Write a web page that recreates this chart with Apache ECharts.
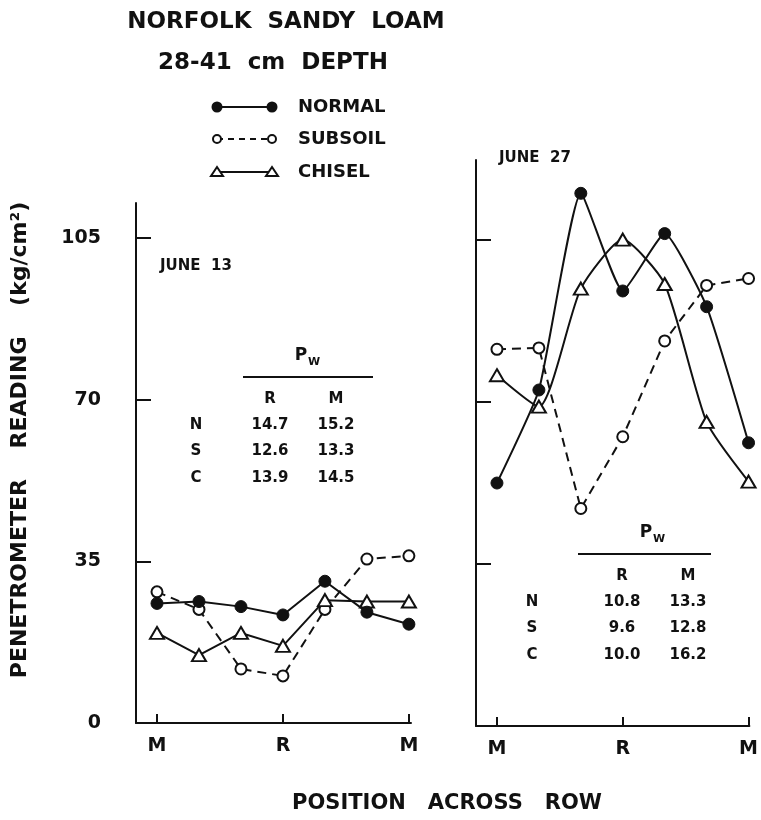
<!DOCTYPE html>
<html>
<head>
<meta charset="utf-8">
<script src="https://cdn.jsdelivr.net/npm/echarts@6/dist/echarts.min.js"></script>
<style>html,body{margin:0;padding:0;background:#fff}#chart{width:761px;height:820px}</style>
</head>
<body>
<div id="chart"></div>
<script>
// ---- data ----
const positions = [0, 1, 2, 3, 4, 5, 6];
const xTickValues = [0, 3, 6];
const xTickLabels = ['M', 'R', 'M'];
const yTickValues = [0, 35, 70, 105];
const june13Normal  = [25.9, 26.3, 25.2, 23.4, 30.7, 24.0, 21.4];
const june13Subsoil = [28.4, 24.6, 11.7, 10.2, 24.6, 35.5, 36.2];
const june13Chisel  = [19.5, 14.7, 19.5, 16.7, 26.6, 26.3, 26.3];
const june27Normal  = [52.5, 72.6, 115.1, 94.0, 106.4, 90.6, 61.2];
const june27Subsoil = [81.4, 81.7, 47.0, 62.5, 83.2, 95.2, 96.7];
const june27Chisel  = [75.8, 69.0, 94.5, 105.1, 95.5, 65.7, 52.8];
const tableRows = ['N', 'S', 'C'];
const table13R = ['14.7', '12.6', '13.9'];
const table13M = ['15.2', '13.3', '14.5'];
const table27R = ['10.8', '9.6', '10.0'];
const table27M = ['13.3', '12.8', '16.2'];

const FONT = 'DejaVu Sans';
const BLACK = '#111';

function pairs(arr) { return arr.map((v, i) => [positions[i], v]); }

function xAxisDef(gridIndex, max) {
  return {
    type: 'value', gridIndex, min: -0.5, max,
    axisLine: { show: true, onZero: false, lineStyle: { color: BLACK, width: 2 } },
    axisTick: { show: true, inside: true, length: 9, customValues: xTickValues, lineStyle: { color: BLACK, width: 2 } },
    axisLabel: { show: true, customValues: xTickValues, margin: 14,
      formatter: v => xTickLabels[xTickValues.indexOf(v)],
      color: BLACK, fontFamily: FONT, fontWeight: 'bold', fontSize: 19 },
    splitLine: { show: false }
  };
}
function yAxisDef(gridIndex, max, labels) {
  return {
    type: 'value', gridIndex, min: 0, max,
    axisLine: { show: true, onZero: false, lineStyle: { color: BLACK, width: 2 } },
    axisTick: { show: true, inside: true, length: 15, customValues: yTickValues.slice(1), lineStyle: { color: BLACK, width: 2 } },
    axisLabel: { show: labels, customValues: yTickValues, margin: 35,
      color: BLACK, fontFamily: FONT, fontWeight: 'bold', fontSize: 19 },
    splitLine: { show: false }
  };
}
function seriesDef(kind, idx, data, smooth) {
  const base = { type: 'line', xAxisIndex: idx, yAxisIndex: idx, data: pairs(data), animation: false,
    lineStyle: { color: BLACK, width: 2 }, smooth: smooth || false, z: 3 };
  if (kind === 'N') {
    return Object.assign(base, { symbol: 'circle', symbolSize: 12, itemStyle: { color: BLACK, borderColor: BLACK }, z: 4 });
  } else if (kind === 'S') {
    base.lineStyle.type = [9, 6];
    return Object.assign(base, { symbol: 'circle', symbolSize: 11, itemStyle: { color: '#fff', borderColor: BLACK, borderWidth: 2 } });
  } else {
    return Object.assign(base, { symbol: 'triangle', symbolSize: [14, 12], itemStyle: { color: '#fff', borderColor: BLACK, borderWidth: 2 } });
  }
}

function txt(x, y, s, size, extra) {
  return { type: 'text', x, y, style: Object.assign({ text: s, fill: BLACK,
    font: 'bold ' + size + 'px "' + FONT + '"', textAlign: 'center', textVerticalAlign: 'middle' }, extra || {}) };
}

const graphics = [];
// titles
graphics.push(txt(286, 22, 'NORFOLK  SANDY  LOAM', 23));
graphics.push(txt(273, 63, '28-41  cm  DEPTH', 23));
// legend
const legendRows = [ { y: 107, k: 'N', label: 'NORMAL' }, { y: 139, k: 'S', label: 'SUBSOIL' }, { y: 172, k: 'C', label: 'CHISEL' } ];
legendRows.forEach(r => {
  graphics.push({ type: 'line', shape: { x1: 217, y1: r.y, x2: 272, y2: r.y },
    style: { stroke: BLACK, lineWidth: 2, lineDash: r.k === 'S' ? [6, 5] : null } });
  [217, 272].forEach(cx => {
    if (r.k === 'N') graphics.push({ type: 'circle', shape: { cx, cy: r.y, r: 5.5 }, style: { fill: BLACK } });
    else if (r.k === 'S') graphics.push({ type: 'circle', shape: { cx, cy: r.y, r: 4 }, style: { fill: '#fff', stroke: BLACK, lineWidth: 2 } });
    else graphics.push({ type: 'polygon', shape: { points: [[cx, r.y - 5], [cx - 6, r.y + 4], [cx + 6, r.y + 4]] }, style: { fill: '#fff', stroke: BLACK, lineWidth: 2 } });
  });
  graphics.push(txt(298, r.y, r.label, 18, { textAlign: 'left' }));
});
// panel labels
graphics.push(txt(160, 266, 'JUNE  13', 15, { textAlign: 'left' }));
graphics.push(txt(499, 158, 'JUNE  27', 15, { textAlign: 'left' }));
// axis titles
graphics.push({ type: 'text', x: 20, y: 440, rotation: Math.PI / 2,
  style: { text: 'PENETROMETER    READING    (kg/cm²)', fill: BLACK, font: 'bold 22px "' + FONT + '"', textAlign: 'center', textVerticalAlign: 'middle' } });
graphics.push(txt(447, 804, 'POSITION   ACROSS   ROW', 21));

function table(xr, xm, xn, y0, xp, lx1, lx2, rowsR, rowsM) {
  graphics.push(txt(xp, y0, 'P', 17));
  graphics.push(txt(xp + 13, y0 + 6, 'W', 11));
  graphics.push({ type: 'line', shape: { x1: lx1, y1: y0 + 21, x2: lx2, y2: y0 + 21 }, style: { stroke: BLACK, lineWidth: 2 } });
  graphics.push(txt(xr, y0 + 43, 'R', 15));
  graphics.push(txt(xm, y0 + 43, 'M', 15));
  tableRows.forEach((n, i) => {
    const y = y0 + 69 + i * 26.5;
    graphics.push(txt(xn, y, n, 15));
    graphics.push(txt(xr, y, rowsR[i], 15));
    graphics.push(txt(xm, y, rowsM[i], 15));
  });
}
table(270, 336, 196, 356, 301, 243, 373, table13R, table13M);
table(622, 688, 532, 533, 646, 578, 711, table27R, table27M);

const chart = echarts.init(document.getElementById('chart'), null, { renderer: 'canvas' });
chart.setOption({
  backgroundColor: '#fff',
  animation: false,
  grid: [
    { left: 136, width: 275, top: 203, height: 520 },
    { left: 476, width: 277, top: 160, height: 566 }
  ],
  xAxis: [xAxisDef(0, 6.05), xAxisDef(1, 6.02)],
  yAxis: [yAxisDef(0, 112.6, true), yAxisDef(1, 122.3, false)],
  series: [
    seriesDef('N', 0, june13Normal), seriesDef('S', 0, june13Subsoil), seriesDef('C', 0, june13Chisel),
    seriesDef('N', 1, june27Normal, 0.15), seriesDef('S', 1, june27Subsoil), seriesDef('C', 1, june27Chisel, 0.2)
  ],
  graphic: graphics
});
</script>
</body>
</html>
